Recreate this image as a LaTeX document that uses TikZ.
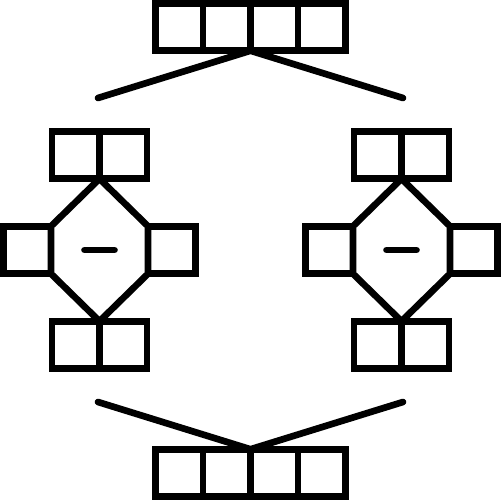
\documentclass[tikz,border=0pt]{standalone}
\begin{document}
\begin{tikzpicture}[x=0.75pt,y=-0.75pt,
  every path/.style={line width=5pt},
  cell/.style={draw,line width=5pt,line join=miter,rectangle,minimum size=35.625pt,inner sep=0pt,outer sep=0pt},
  wire/.style={draw,line width=5pt,line cap=round},
  hexline/.style={draw,line width=5pt,line join=miter},
  minus/.style={draw,line width=5pt,line cap=round}]
\useasboundingbox (0,0) rectangle (501,500);
% top row
\node[cell] (t1) at (179.25,27) {};
\node[cell] (t2) at (226.75,27) {};
\node[cell] (t3) at (274.25,27) {};
\node[cell] (t4) at (321.75,27) {};
% bottom row
\node[cell] (b1) at (179.25,473) {};
\node[cell] (b2) at (226.75,473) {};
\node[cell] (b3) at (274.25,473) {};
\node[cell] (b4) at (321.75,473) {};
% connector ends
\coordinate (tl) at (98,98);
\coordinate (tr) at (403,98);
\coordinate (bl) at (98,402);
\coordinate (br) at (403,402);
\draw[wire] (tl) -- (t2.south east) -- (tr);
\draw[wire] (bl) -- (b2.north east) -- (br);
% left unit
\node[cell] (lt1) at (75.75,155) {};
\node[cell] (lt2) at (123.25,155) {};
\node[cell] (lb1) at (75.75,345) {};
\node[cell] (lb2) at (123.25,345) {};
\node[cell] (ll) at (27.25,250) {};
\node[cell] (lr) at (171.75,250) {};
\draw[hexline] (lt1.south east) -- (lr.north west) -- (lr.south west) -- (lb1.north east) -- (ll.south east) -- (ll.north east) -- cycle;
\coordinate (lm1) at (84.5,250);
\coordinate (lm2) at (114.5,250);
\draw[minus] (lm1) -- (lm2);
% right unit
\node[cell] (rt1) at (377.75,155) {};
\node[cell] (rt2) at (425.25,155) {};
\node[cell] (rb1) at (377.75,345) {};
\node[cell] (rb2) at (425.25,345) {};
\node[cell] (rl) at (329.25,250) {};
\node[cell] (rr) at (473.75,250) {};
\draw[hexline] (rt1.south east) -- (rr.north west) -- (rr.south west) -- (rb1.north east) -- (rl.south east) -- (rl.north east) -- cycle;
\coordinate (rm1) at (386.5,250);
\coordinate (rm2) at (416.5,250);
\draw[minus] (rm1) -- (rm2);
\end{tikzpicture}
\end{document}
